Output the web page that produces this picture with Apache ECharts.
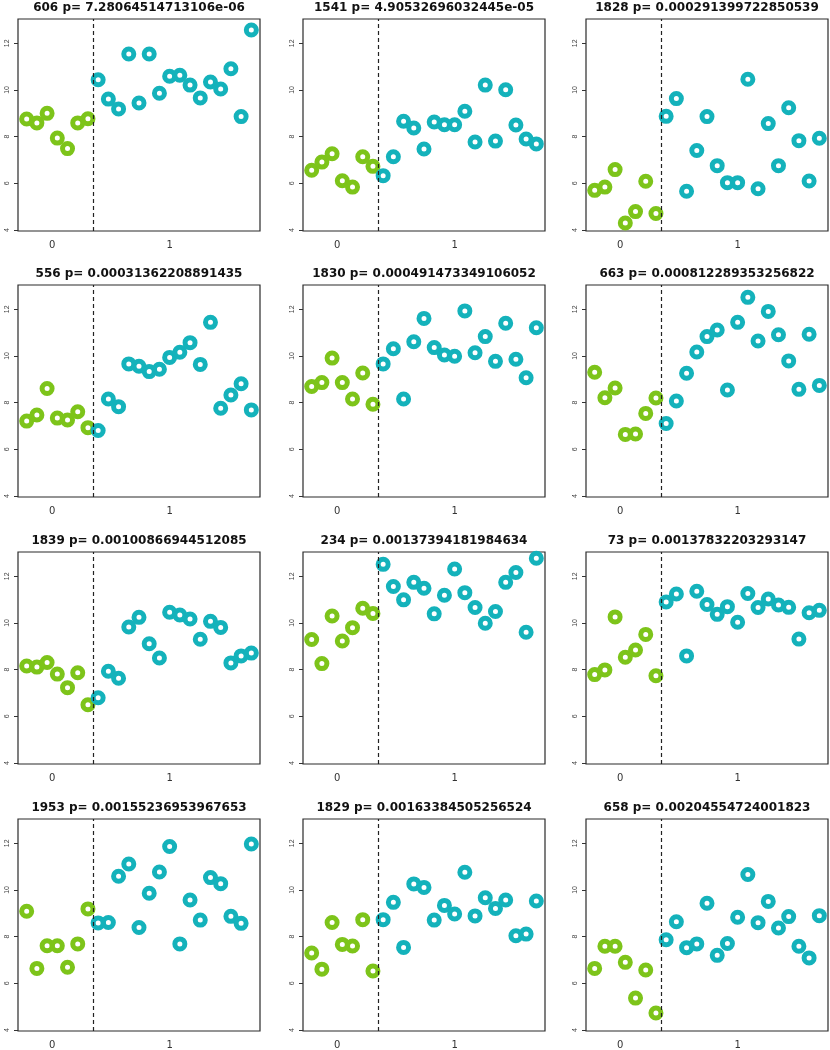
<!DOCTYPE html>
<html><head><meta charset="utf-8">
<script src="https://cdn.jsdelivr.net/npm/echarts@6/dist/echarts.min.js"></script>
<style>html,body{margin:0;padding:0;background:#fff}#c{width:830px;height:1050px}</style>
</head><body><div id="c"></div>
<script>
const panelIds = ['606','1541','1828','556','1830','663','1839','234','73','1953','1829','658'];
const pValues = ['7.28064514713106e-06','4.90532696032445e-05','0.000291399722850539',
  '0.00031362208891435','0.000491473349106052','0.000812289353256822',
  '0.00100866944512085','0.00137394181984634','0.00137832203293147',
  '0.00155236953967653','0.00163384505256524','0.00204554724001823'];

const group0 = [
  [8.76,8.59,9.00,7.94,7.49,8.59,8.77],
  [6.56,6.91,7.27,6.11,5.84,7.14,6.73],
  [5.70,5.84,6.59,4.30,4.79,6.09,4.71],
  [7.21,7.47,8.61,7.34,7.26,7.61,6.93],
  [8.69,8.86,9.91,8.86,8.16,9.27,7.93],
  [9.30,8.21,8.63,6.64,6.66,7.54,8.20],
  [8.16,8.11,8.31,7.81,7.23,7.87,6.50],
  [9.29,8.26,10.30,9.23,9.80,10.63,10.41],
  [7.79,7.99,10.26,8.53,8.84,9.51,7.74],
  [9.09,6.64,7.61,7.61,6.69,7.69,9.19],
  [7.30,6.61,8.61,7.67,7.60,8.73,6.53],
  [6.64,7.59,7.59,6.90,5.37,6.57,4.73]
];
const group1 = [
  [10.44,9.61,9.19,11.54,9.44,11.54,9.86,10.59,10.63,10.21,9.66,10.34,10.04,10.91,8.86,12.57],
  [6.33,7.14,8.66,8.37,7.47,8.63,8.51,8.51,9.09,7.77,10.21,7.81,10.01,8.50,7.90,7.69],
  [8.87,9.63,5.66,7.41,8.86,6.76,6.03,6.03,10.46,5.77,8.56,6.76,9.24,7.83,6.10,7.93],
  [6.81,8.16,7.83,9.66,9.56,9.33,9.43,9.94,10.16,10.57,9.64,11.44,7.76,8.33,8.81,7.69],
  [9.66,10.31,8.16,10.61,11.61,10.36,10.04,9.99,11.93,10.14,10.83,9.77,11.40,9.86,9.07,11.21],
  [7.11,8.07,9.26,10.17,10.83,11.11,8.54,11.44,12.51,10.64,11.91,10.91,9.79,8.57,10.93,8.74],
  [6.80,7.93,7.63,9.83,10.24,9.11,8.50,10.46,10.34,10.17,9.30,10.07,9.81,8.29,8.59,8.71],
  [12.51,11.56,10.99,11.74,11.49,10.39,11.19,12.31,11.30,10.66,9.99,10.49,11.74,12.16,9.60,12.77],
  [10.90,11.24,8.59,11.36,10.79,10.37,10.70,10.03,11.26,10.66,11.03,10.77,10.67,9.31,10.44,10.54],
  [8.59,8.61,10.59,11.11,8.39,9.86,10.77,11.86,7.69,9.57,8.71,10.53,10.27,8.87,8.57,11.97],
  [8.73,9.47,7.54,10.26,10.11,8.71,9.34,8.97,10.76,8.89,9.67,9.21,9.57,8.04,8.11,9.53],
  [7.87,8.64,7.53,7.69,9.43,7.20,7.71,8.83,10.66,8.60,9.51,8.37,8.86,7.59,7.09,8.90]
];
const yTicks = [4,6,8,10,12];
const xTickLabels = ['0','1'];
const xTickPos = [3.5, 15];

const GREEN = '#7dc41a', TEAL = '#14b2bb';
const colLeft = [18, 303, 586], colW = 242;
const rowTop = [19, 285, 552, 819], rowH = 212;

const grids = [], xAxes = [], yAxes = [], titles = [], series = [];
panelIds.forEach((id, i) => {
  const r = Math.floor(i / 3), c = i % 3;
  const left = colLeft[c], top = rowTop[r];
  grids.push({left: left, top: top, width: colW, height: rowH, show: true,
    borderColor: '#2a2a2a', borderWidth: 1.2, backgroundColor: 'transparent', containLabel: false});
  titles.push({text: id + ' p= ' + pValues[i], left: left + colW / 2, top: top - 17,
    textAlign: 'center', padding: 0,
    textStyle: {fontFamily: 'DejaVu Sans', fontWeight: 'bold', fontSize: 12, color: '#111'}});
  xAxes.push({gridIndex: i, type: 'value', min: 0.15, max: 23.85,
    axisLine: {show: false}, axisTick: {show: false}, splitLine: {show: false},
    axisLabel: {customValues: xTickPos, formatter: v => xTickLabels[xTickPos.indexOf(v)] ?? '',
      fontFamily: 'DejaVu Sans', fontSize: 10, color: '#333', margin: 9}});
  yAxes.push({gridIndex: i, type: 'value', min: 3.96, max: 13.04,
    axisLine: {show: false}, splitLine: {show: false},
    axisTick: {show: true, length: 4, customValues: yTicks, lineStyle: {color: '#333', width: 1}},
    axisLabel: {customValues: yTicks, rotate: 90, fontFamily: 'Liberation Sans', fontSize: 7,
      color: '#444', margin: 7}});
  const d0 = group0[i].map((v, k) => [k + 1, v]);
  const d1 = group1[i].map((v, k) => [group0[i].length + k + 1, v]);
  const ring = col => ({symbol: 'circle', symbolSize: 10,
    itemStyle: {color: 'rgba(255,255,255,0)', borderColor: col, borderWidth: 5, opacity: 1}});
  series.push(Object.assign({type: 'scatter', xAxisIndex: i, yAxisIndex: i, data: d0, silent: true,
    emphasis: {disabled: true}}, ring(GREEN)));
  series.push(Object.assign({type: 'scatter', xAxisIndex: i, yAxisIndex: i, data: d1, silent: true,
    emphasis: {disabled: true},
    markLine: {silent: true, symbol: ['none', 'none'], label: {show: false},
      lineStyle: {type: [4, 3], color: '#222', width: 1.2},
      data: [{xAxis: group0[i].length + 0.5}]}}, ring(TEAL)));
});

const chart = echarts.init(document.getElementById('c'), null, {renderer: 'canvas'});
chart.setOption({animation: false, backgroundColor: '#fff', title: titles, grid: grids,
  xAxis: xAxes, yAxis: yAxes, series: series});
</script></body></html>
